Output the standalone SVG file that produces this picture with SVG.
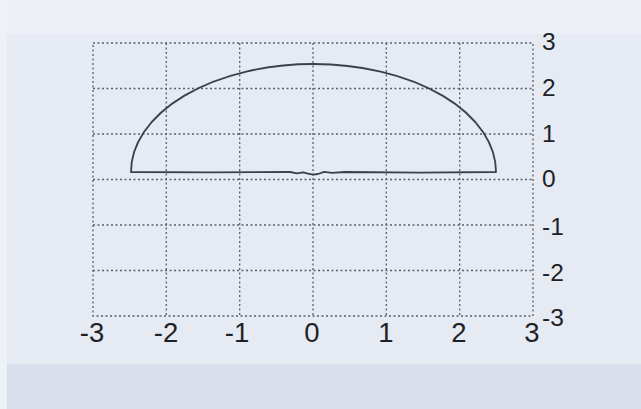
<svg xmlns="http://www.w3.org/2000/svg" width="641" height="409" viewBox="0 0 641 409">
<style>
.grid{stroke:#5a5e66;stroke-width:1.3;stroke-dasharray:2 2.5;fill:none}
.curve{stroke:#3b4049;stroke-width:1.8;fill:none;stroke-linejoin:round}
.lbl{font-family:"Liberation Sans",Arial,sans-serif;fill:#1e2228}
.xl{font-size:27.5px;text-anchor:middle}
.yl{font-size:24.5px;text-anchor:start}
</style>
<rect x="0" y="0" width="641" height="409" fill="#e6eaf2"/>
<rect x="0" y="0" width="641" height="34" fill="#edf0f6"/>
<rect x="7" y="364" width="634" height="45" fill="#d9dfec"/>
<rect x="0" y="0" width="7" height="409" fill="#eef1f6"/>
<g id="grid">
<rect class="grid" x="93" y="43" width="440" height="273"/>
<line class="grid" x1="166.3" y1="43" x2="166.3" y2="316"/>
<line class="grid" x1="239.7" y1="43" x2="239.7" y2="316"/>
<line class="grid" x1="313" y1="43" x2="313" y2="316"/>
<line class="grid" x1="386.3" y1="43" x2="386.3" y2="316"/>
<line class="grid" x1="459.7" y1="43" x2="459.7" y2="316"/>
<line class="grid" x1="93" y1="88.5" x2="533" y2="88.5"/>
<line class="grid" x1="93" y1="134" x2="533" y2="134"/>
<line class="grid" x1="93" y1="179.5" x2="533" y2="179.5"/>
<line class="grid" x1="93" y1="225" x2="533" y2="225"/>
<line class="grid" x1="93" y1="270.5" x2="533" y2="270.5"/>
</g>
<g id="curve">
<path class="curve" d="M131,172 A182.5,108 0 0 1 496,172 L420,172.6 L345,172 L332,172.8 L324,171.8 L318,174 L313,174.6 L308,173.6 L303,172.4 L297,173.4 L290,172 L210,172.4 L131,172 Z"/>
</g>
<g id="xlabels" class="lbl xl">
<text x="92" y="342">-3</text>
<text x="166" y="342">-2</text>
<text x="237" y="342">-1</text>
<text x="312" y="342">0</text>
<text x="386" y="342">1</text>
<text x="459" y="342">2</text>
<text x="532" y="342">3</text>
</g>
<g id="ylabels" class="lbl yl">
<text x="542" y="50">3</text>
<text x="542" y="96">2</text>
<text x="542" y="142">1</text>
<text x="542" y="187">0</text>
<text x="542" y="235">-1</text>
<text x="542" y="281">-2</text>
<text x="542" y="326">-3</text>
</g>
</svg>
